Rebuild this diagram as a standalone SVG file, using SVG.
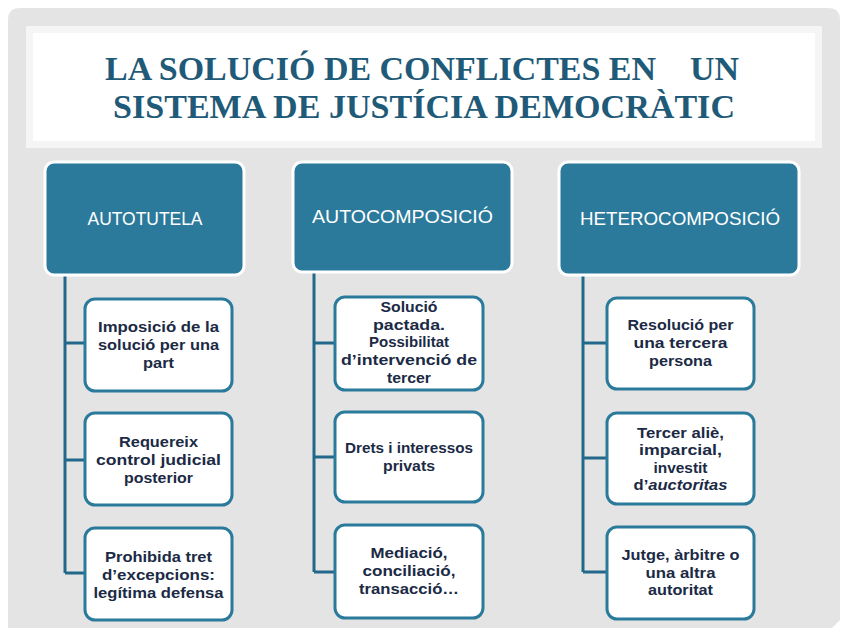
<svg xmlns="http://www.w3.org/2000/svg" width="848" height="636" viewBox="0 0 848 636">
<style>
.title{font-family:"Liberation Serif","Times New Roman",serif;font-weight:bold;font-size:34px;fill:#1f5a78}
.hbox{fill:#2b7a9c;stroke:#ffffff;stroke-width:3}
.htxt{font-family:"Liberation Sans",Arial,sans-serif;font-size:18px;fill:#ffffff;text-anchor:middle}
.cbox{fill:#ffffff;stroke:#2a7a9b;stroke-width:3}
.ctxt{font-family:"Liberation Sans",Arial,sans-serif;font-weight:bold;font-size:15px;fill:#1b2a45;text-anchor:middle}
.conn{fill:none;stroke:#22688a;stroke-width:3}
</style>
<rect x="0" y="0" width="848" height="636" fill="#ffffff"/>
<path d="M8,20 Q8,8 20,8 H828 Q840,8 840,20 V620 L832,628 H8 Z" fill="#e4e4e4"/>
<rect x="26" y="26" width="796" height="122" fill="#f5f5f5"/>
<rect x="33" y="33" width="782" height="108" fill="#ffffff"/>
<text class="title" x="422" y="80" text-anchor="middle" textLength="634" lengthAdjust="spacingAndGlyphs" xml:space="preserve">LA SOLUCIÓ DE CONFLICTES EN    UN</text>
<text class="title" x="424" y="118" text-anchor="middle" textLength="622" lengthAdjust="spacingAndGlyphs">SISTEMA DE JUSTÍCIA DEMOCRÀTIC</text>

<g id="connectors">
<path class="conn" d="M65,275 V573 M65,343 H85 M65,460 H85 M65,573 H85"/>
<path class="conn" d="M314,272 V572 M314,343 H335 M314,457 H335 M314,572 H335"/>
<path class="conn" d="M583,275 V572 M583,343 H607 M583,458 H607 M583,572 H607"/>
</g>

<g id="autotutela">
<rect class="hbox" x="45" y="162" width="199" height="113" rx="9"/>
<text class="htxt" x="145" y="225" textLength="115" lengthAdjust="spacingAndGlyphs">AUTOTUTELA</text>
</g>
<g id="autocomposicio">
<rect class="hbox" x="293" y="162" width="219" height="110" rx="9"/>
<text class="htxt" x="402.5" y="223" textLength="181" lengthAdjust="spacingAndGlyphs">AUTOCOMPOSICIÓ</text>
</g>
<g id="heterocomposicio">
<rect class="hbox" x="559" y="162" width="240" height="113" rx="9"/>
<text class="htxt" x="680" y="225" textLength="200" lengthAdjust="spacingAndGlyphs">HETEROCOMPOSICIÓ</text>
</g>

<g id="c1a">
<rect class="cbox" x="85" y="299" width="147" height="92" rx="10"/>
<text class="ctxt"><tspan x="158.5" y="332" textLength="121" lengthAdjust="spacingAndGlyphs">Imposició de la</tspan><tspan x="158.5" y="350" textLength="121" lengthAdjust="spacingAndGlyphs">solució per una</tspan><tspan x="158.5" y="368" textLength="31" lengthAdjust="spacingAndGlyphs">part</tspan></text>
</g>
<g id="c1b">
<rect class="cbox" x="85" y="413" width="147" height="92" rx="10"/>
<text class="ctxt"><tspan x="158.5" y="447" textLength="79" lengthAdjust="spacingAndGlyphs">Requereix</tspan><tspan x="158.5" y="465" textLength="125" lengthAdjust="spacingAndGlyphs">control judicial</tspan><tspan x="158.5" y="483" textLength="69" lengthAdjust="spacingAndGlyphs">posterior</tspan></text>
</g>
<g id="c1c">
<rect class="cbox" x="85" y="528" width="147" height="92" rx="10"/>
<text class="ctxt"><tspan x="158.5" y="562" textLength="107" lengthAdjust="spacingAndGlyphs">Prohibida tret</tspan><tspan x="158.5" y="580" textLength="113" lengthAdjust="spacingAndGlyphs">d’excepcions:</tspan><tspan x="158.5" y="598" textLength="130" lengthAdjust="spacingAndGlyphs">legítima defensa</tspan></text>
</g>

<g id="c2a">
<rect class="cbox" x="335" y="297" width="148" height="93" rx="10"/>
<text class="ctxt"><tspan x="409" y="312" textLength="57" lengthAdjust="spacingAndGlyphs">Solució</tspan><tspan x="409" y="330" textLength="72" lengthAdjust="spacingAndGlyphs">pactada.</tspan><tspan x="409" y="347" textLength="80" lengthAdjust="spacingAndGlyphs">Possibilitat</tspan><tspan x="409" y="365" textLength="136" lengthAdjust="spacingAndGlyphs">d’intervenció de</tspan><tspan x="409" y="383" textLength="44" lengthAdjust="spacingAndGlyphs">tercer</tspan></text>
</g>
<g id="c2b">
<rect class="cbox" x="335" y="412" width="148" height="90" rx="10"/>
<text class="ctxt"><tspan x="409" y="453" textLength="128" lengthAdjust="spacingAndGlyphs">Drets i interessos</tspan><tspan x="409" y="471" textLength="52" lengthAdjust="spacingAndGlyphs">privats</tspan></text>
</g>
<g id="c2c">
<rect class="cbox" x="335" y="525" width="148" height="93" rx="10"/>
<text class="ctxt"><tspan x="409" y="558" textLength="77" lengthAdjust="spacingAndGlyphs">Mediació,</tspan><tspan x="409" y="576" textLength="93" lengthAdjust="spacingAndGlyphs">conciliació,</tspan><tspan x="409" y="594" textLength="100" lengthAdjust="spacingAndGlyphs">transacció…</tspan></text>
</g>

<g id="c3a">
<rect class="cbox" x="607" y="298" width="147" height="91" rx="10"/>
<text class="ctxt"><tspan x="680.5" y="330" textLength="106" lengthAdjust="spacingAndGlyphs">Resolució per</tspan><tspan x="680.5" y="348" textLength="94" lengthAdjust="spacingAndGlyphs">una tercera</tspan><tspan x="680.5" y="366" textLength="63" lengthAdjust="spacingAndGlyphs">persona</tspan></text>
</g>
<g id="c3b">
<rect class="cbox" x="607" y="413" width="147" height="91" rx="10"/>
<text class="ctxt"><tspan x="680.5" y="438" textLength="87" lengthAdjust="spacingAndGlyphs">Tercer aliè,</tspan><tspan x="680.5" y="455" textLength="83" lengthAdjust="spacingAndGlyphs">imparcial,</tspan><tspan x="680.5" y="473" textLength="54" lengthAdjust="spacingAndGlyphs">investit</tspan><tspan x="680.5" y="490" textLength="94" lengthAdjust="spacingAndGlyphs">d’<tspan font-style="italic">auctoritas</tspan></tspan></text>
</g>
<g id="c3c">
<rect class="cbox" x="607" y="527" width="147" height="92" rx="10"/>
<text class="ctxt"><tspan x="680.5" y="560" textLength="118" lengthAdjust="spacingAndGlyphs">Jutge, àrbitre o</tspan><tspan x="680.5" y="578" textLength="70" lengthAdjust="spacingAndGlyphs">una altra</tspan><tspan x="680.5" y="595" textLength="65" lengthAdjust="spacingAndGlyphs">autoritat</tspan></text>
</g>
</svg>
